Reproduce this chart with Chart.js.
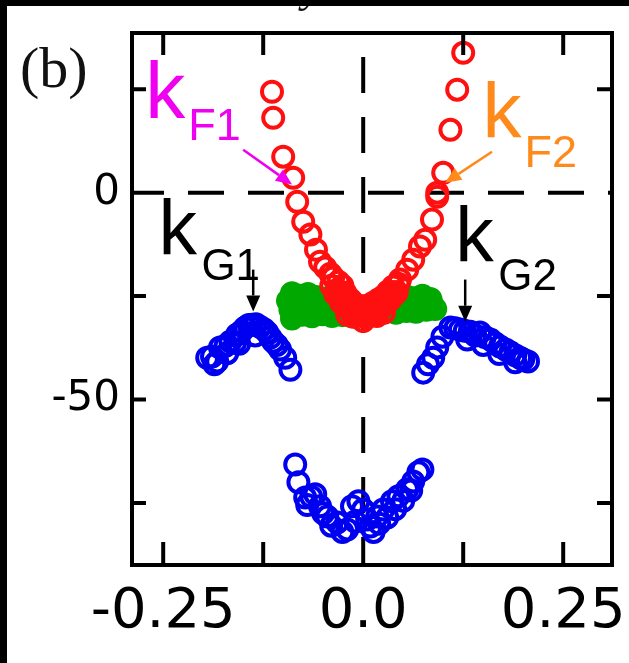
<!DOCTYPE html>
<html>
<head>
<meta charset="utf-8">
<script src="https://cdn.jsdelivr.net/npm/chart.js@4.4.1/dist/chart.umd.min.js"></script>
<style>
  html, body { margin: 0; padding: 0; background: #fff; overflow: hidden; }
  canvas { display: block; }
</style>
</head>
<body>
<canvas id="grafico" width="629" height="663"></canvas>
<script>
// eixos
const xTickValues = [-0.25, 0, 0.25];
const xTickLabels = ['-0.25', '0.0', '0.25'];
const yTickValues = [0, -50];
const yTickLabels = ['0', '-50'];
const xTickMarks = [-0.25, -0.125, 0.125, 0.25];
const yTickMarks = [25, -25, -50, -75];

// banda vermelha (parabola)
const redX = [-0.114, -0.1125, -0.100, -0.0875, -0.0825, -0.075, -0.066, -0.059, -0.054, -0.0475, -0.041, -0.0375,
  -0.031, -0.026, -0.0225, -0.020, -0.016, -0.0125, -0.006, 0, 0.006, 0.0125, 0.019, 0.025, 0.031, 0.0375,
  0.046, 0.055, 0.0625, 0.071, 0.0775, 0.086, 0.0925, 0.0925, 0.100, 0.109, 0.1175, 0.125,
  -0.035, -0.028, -0.018, -0.008, 0.004, 0.014, 0.024, 0.034, 0.042, -0.004, 0.009, -0.03, -0.02, -0.01,
  0.0, 0.01, 0.02, 0.03, 0.04,
  -0.04, -0.033, -0.025, -0.015, -0.005, 0.003, 0.012, 0.02, 0.028, 0.036, 0.044, -0.012, 0.017, 0.0, -0.02, 0.026];
const redY = [24.4, 18.1, 8.7, 3.6, -2.2, -7.0, -10.1, -13.8, -16.7, -18.1, -19.6, -20.5,
  -21.5, -22.5, -24.2, -25.1, -25.8, -26.6, -27.3, -27.5, -27.3, -26.6, -25.8, -25.1, -23.9, -22.7,
  -21.0, -18.6, -16.2, -13.0, -11.4, -6.5, -1.0, 0.0, 4.8, 15.2, 24.9, 33.8,
  -24.5, -26.5, -28.2, -29.8, -30.2, -29.2, -27.6, -25.8, -24.0, -28.6, -28.0, -25.0, -27.5, -29.0,
  -29.5, -29.0, -27.8, -26.5, -24.5,
  -22.5, -23.5, -25.5, -27.0, -28.8, -29.0, -28.4, -27.0, -25.5, -24.0, -22.0, -30.0, -29.8, -31.0, -29.5, -29.0];

// banda verde
const greenX = [-0.089, -0.079, -0.069, -0.059, -0.049,
  -0.094, -0.084, -0.074, -0.064, -0.054, -0.044, -0.034,
  -0.091, -0.081, -0.071, -0.061, -0.051, -0.041, -0.031, -0.021,
  -0.089, -0.076, -0.064, -0.051, -0.039, -0.026, -0.014,
  0.000, 0.011, 0.024,
  0.044, 0.054, 0.064, 0.074, 0.084,
  0.026, 0.036, 0.046, 0.056, 0.066, 0.076, 0.086,
  0.016, 0.029, 0.041, 0.054, 0.066, 0.079, 0.090];
const greenY = [-24.3, -24.9, -24.5, -25.2, -25.6,
  -26.1, -26.6, -25.9, -26.8, -26.2, -26.7, -27.0,
  -28.3, -27.6, -28.4, -27.8, -28.2, -27.9, -28.5, -28.8,
  -30.4, -29.5, -29.9, -29.4, -29.8, -29.6, -29.9,
  -29.3, -29.6, -29.0,
  -25.6, -25.1, -25.5, -24.9, -25.7,
  -27.3, -26.8, -27.4, -26.9, -27.2, -26.6, -27.0,
  -28.9, -28.4, -29.0, -28.6, -28.8, -28.3, -28.1];

// bandas azuis (esquerda, direita, fundo)
const blueX = [-0.195, -0.189, -0.1825, -0.179, -0.166, -0.1575, -0.1475, -0.139, -0.129, -0.120, -0.1125, -0.104, -0.0975, -0.091,
  -0.186, -0.172, -0.160, -0.152, -0.143, -0.134, -0.124, -0.116, -0.170, -0.155, -0.135, -0.108,
  0.075, 0.081, 0.0875, 0.0925, 0.099, 0.109, 0.121, 0.134, 0.146, 0.159, 0.171, 0.184, 0.196, 0.206,
  0.115, 0.127, 0.140, 0.152, 0.165, 0.178, 0.190, 0.200, 0.130, 0.150, 0.170, 0.190,
  -0.085, -0.081, -0.0725, -0.060, -0.054, -0.045, -0.0325, -0.020, -0.014, -0.006, 0.000, 0.005, 0.009,
  0.0175, 0.025, 0.036, 0.044, 0.055, 0.0625, 0.069, 0.074,
  -0.070, -0.050, -0.040, -0.026, -0.010, 0.013, 0.020, 0.030, 0.040, 0.050, 0.060, -0.065];
const blueY = [-39.9, -39.6, -40.8, -37.4, -36.0, -34.3, -32.6, -31.9, -32.4, -33.8, -36.0, -37.9, -39.9, -42.8,
  -41.5, -37.0, -36.2, -33.5, -32.0, -31.8, -33.0, -35.0, -38.8, -36.5, -34.5, -36.8,
  -43.5, -41.5, -39.9, -37.4, -34.8, -32.6, -33.1, -33.6, -33.8, -35.5, -37.2, -38.6, -39.9, -40.8,
  -32.8, -33.4, -34.5, -34.9, -36.4, -37.9, -39.3, -40.3, -35.5, -36.8, -39.0, -41.0,
  -65.7, -70.0, -73.7, -72.9, -75.8, -78.3, -79.7, -81.4, -75.8, -74.6, -76.6, -79.0, -80.7,
  -78.3, -76.6, -74.6, -73.4, -71.7, -69.8, -67.6, -66.9,
  -75.5, -77.5, -80.5, -82.0, -79.5, -82.0, -80.0, -78.5, -76.5, -74.5, -72.0, -73.5];

const toPoints = (xs, ys) => xs.map((x, i) => ({ x: x, y: ys[i] }));

// textos e setas (coordenadas de dados)
const rotulos = [
  { k: 'k', sub: 'F1', x: -0.2725, y: 18.1, cor: '#f000f0', kSize: 80, subSize: 45, dx: 43, dy: 22 },
  { k: 'k', sub: 'F2', x: 0.149, y: 13.3, cor: '#ff8a1c', kSize: 78, subSize: 45, dx: 42, dy: 29 },
  { k: 'k', sub: 'G1', x: -0.256, y: -15.0, cor: '#000', kSize: 77, subSize: 44, dx: 43, dy: 25 },
  { k: 'k', sub: 'G2', x: 0.115, y: -16.7, cor: '#000', kSize: 77, subSize: 44, dx: 43, dy: 28 }
];
const setas = [
  { x0: -0.150, y0: 10.4, x1: -0.089, y1: 2.0, cor: '#f000f0' },
  { x0: 0.161, y0: 9.9, x1: 0.1025, y1: 2.4, cor: '#ff8a1c' },
  { x0: -0.1375, y0: -18.6, x1: -0.1375, y1: -28.7, cor: '#000' },
  { x0: 0.1275, y0: -21.0, x1: 0.1275, y1: -31.2, cor: '#000' }
];

function desenharSeta(ctx, ax, ay, bx, by, cor) {
    const ang = Math.atan2(by - ay, bx - ax);
    const len = 16, half = 7;
    ctx.strokeStyle = cor;
    ctx.fillStyle = cor;
    ctx.lineWidth = 2.5;
    ctx.beginPath();
    ctx.moveTo(ax, ay);
    ctx.lineTo(bx - Math.cos(ang) * len, by - Math.sin(ang) * len);
    ctx.stroke();
    ctx.beginPath();
    ctx.moveTo(bx, by);
    ctx.lineTo(bx - Math.cos(ang) * len - Math.sin(ang) * half, by - Math.sin(ang) * len + Math.cos(ang) * half);
    ctx.lineTo(bx - Math.cos(ang) * len + Math.sin(ang) * half, by - Math.sin(ang) * len - Math.cos(ang) * half);
    ctx.closePath();
    ctx.fill();
}

const molduraPlugin = {
    id: 'moldura',
    beforeDraw(chart) {
        const ctx = chart.ctx;
        ctx.save();
        ctx.fillStyle = '#fff';
        ctx.fillRect(0, 0, chart.width, chart.height);
        ctx.restore();
    },
    beforeDatasetsDraw(chart) {
        const { ctx, chartArea: a, scales } = chart;
        const x0 = scales.x.getPixelForValue(0);
        const y0 = scales.y.getPixelForValue(0);
        ctx.save();
        ctx.strokeStyle = '#000';
        ctx.lineWidth = 4;
        ctx.setLineDash([36, 24]);
        ctx.lineDashOffset = 4;
        ctx.beginPath();
        ctx.moveTo(a.left, y0);
        ctx.lineTo(a.right, y0);
        ctx.stroke();
        ctx.lineDashOffset = 36;
        ctx.beginPath();
        ctx.moveTo(x0, a.top);
        ctx.lineTo(x0, a.bottom);
        ctx.stroke();
        ctx.restore();
    },
    afterDraw(chart) {
        const { ctx, chartArea: a, scales } = chart;
        ctx.save();
        // moldura e ticks internos
        ctx.strokeStyle = '#000';
        ctx.lineWidth = 4;
        ctx.strokeRect(a.left, a.top, a.right - a.left, a.bottom - a.top);
        ctx.beginPath();
        xTickMarks.forEach(v => {
            const px = scales.x.getPixelForValue(v);
            ctx.moveTo(px, a.top); ctx.lineTo(px, a.top + 22);
            ctx.moveTo(px, a.bottom); ctx.lineTo(px, a.bottom - 23);
        });
        yTickMarks.forEach(v => {
            const py = scales.y.getPixelForValue(v);
            ctx.moveTo(a.left, py); ctx.lineTo(a.left + 14, py);
            ctx.moveTo(a.right, py); ctx.lineTo(a.right - 15, py);
        });
        ctx.stroke();

        // rotulos k
        ctx.textBaseline = 'alphabetic';
        ctx.textAlign = 'left';
        rotulos.forEach(r => {
            const px = scales.x.getPixelForValue(r.x);
            const py = scales.y.getPixelForValue(r.y);
            ctx.fillStyle = r.cor;
            ctx.font = r.kSize + 'px "Liberation Sans", Arial, sans-serif';
            ctx.fillText(r.k, px, py);
            ctx.font = r.subSize + 'px "Liberation Sans", Arial, sans-serif';
            ctx.fillText(r.sub, px + r.dx, py + r.dy);
        });
        setas.forEach(s => {
            desenharSeta(ctx,
                scales.x.getPixelForValue(s.x0), scales.y.getPixelForValue(s.y0),
                scales.x.getPixelForValue(s.x1), scales.y.getPixelForValue(s.y1), s.cor);
        });

        // (b) e titulo cortado
        ctx.fillStyle = '#111';
        ctx.font = '58px "Liberation Serif", "Times New Roman", serif';
        ctx.fillText('(b)', 20, 87);
        ctx.font = 'italic 44px "Liberation Serif", serif';
        ctx.fillText('y', 302, 2);

        // bordas pretas
        ctx.fillStyle = '#000';
        ctx.fillRect(0, 0, chart.width, 6);
        ctx.fillRect(0, 0, 7, chart.height);
        ctx.restore();
    }
};

const pontoBase = { pointStyle: 'circle', pointRadius: 10, pointBorderWidth: 4, pointBackgroundColor: 'rgba(0,0,0,0)', showLine: false };

new Chart(document.getElementById('grafico'), {
    type: 'scatter',
    data: {
        datasets: [
            { ...pontoBase, label: 'vermelho', data: toPoints(redX, redY), pointBorderColor: '#ff1010', order: 0 },
            { ...pontoBase, label: 'verde', data: toPoints(greenX, greenY), pointBorderColor: '#00a800', pointBackgroundColor: '#00a800', order: 1 },
            { ...pontoBase, label: 'azul', data: toPoints(blueX, blueY), pointBorderColor: '#0000f0', order: 2 }
        ]
    },
    options: {
        responsive: false,
        animation: false,
        events: [],
        layout: { padding: { top: 33, right: 17, left: 0, bottom: 0 } },
        plugins: { legend: { display: false }, tooltip: { enabled: false } },
        scales: {
            x: {
                type: 'linear', min: -0.289, max: 0.311,
                grid: { display: false, drawTicks: false },
                border: { display: false },
                afterBuildTicks: (s) => { s.ticks = xTickValues.map(v => ({ value: v })); },
                afterFit: (s) => { s.height = 98; s.paddingLeft = 0; s.paddingRight = 0; },
                ticks: {
                    autoSkip: false, maxRotation: 0, padding: 14, color: '#000',
                    font: { family: 'DejaVu Sans', size: 56 },
                    callback: (v, i) => xTickLabels[i]
                }
            },
            y: {
                type: 'linear', min: -90, max: 38.6,
                grid: { display: false, drawTicks: false },
                border: { display: false },
                afterBuildTicks: (s) => { s.ticks = yTickValues.map(v => ({ value: v })); },
                afterFit: (s) => { s.width = 132; s.paddingTop = 0; s.paddingBottom = 0; },
                ticks: {
                    autoSkip: false, padding: 12, color: '#000',
                    font: { family: 'DejaVu Sans', size: 42 },
                    callback: (v, i) => yTickLabels[i]
                }
            }
        }
    },
    plugins: [molduraPlugin]
});
</script>
</body>
</html>
